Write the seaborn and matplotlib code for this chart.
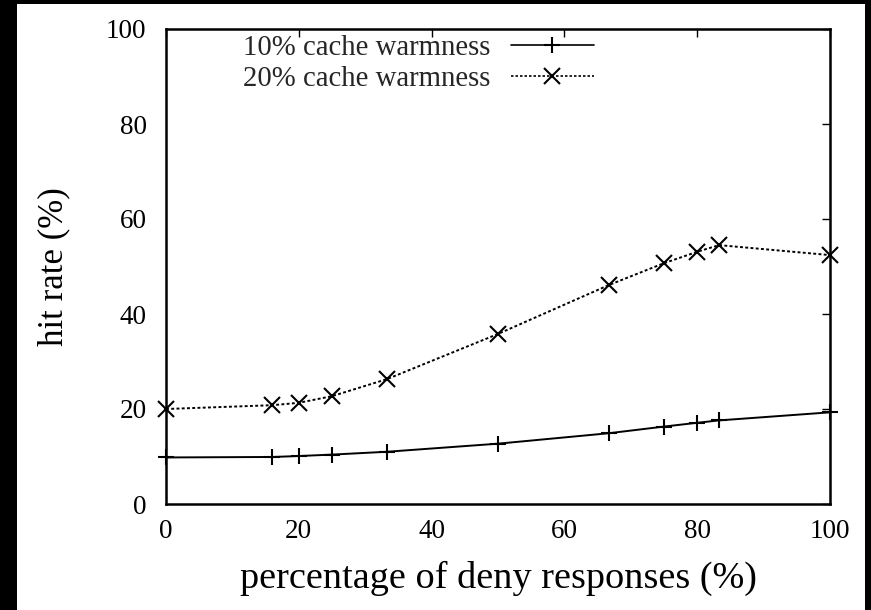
import numpy as np
import pandas as pd
import matplotlib
matplotlib.use("Agg")
import matplotlib.pyplot as plt
import matplotlib.patches as mpatches
import seaborn as sns

# Share of deny responses (%) and the measured hit rates (%)
deny_pct = [0, 16, 20, 25, 33.3, 50, 66.7, 75, 80, 83.3, 100]
hit_10 = [9.8, 9.9, 10.1, 10.4, 11.0, 12.7, 14.9, 16.3, 17.1, 17.6, 19.3]
hit_20 = [20.0, 20.8, 21.3, 22.7, 26.3, 35.8, 46.1, 50.7, 53.1, 54.5, 52.4]
series_names = ["10% cache warmness", "20% cache warmness"]

df = pd.DataFrame({
    "deny": deny_pct * 2,
    "hit": hit_10 + hit_20,
    "series": [series_names[0]] * len(deny_pct) + [series_names[1]] * len(deny_pct),
})

sns.set_theme(style="white")
plt.rcParams["font.family"] = ["Liberation Serif", "DejaVu Serif"]

fig = plt.figure(figsize=(8.71, 6.10), dpi=100, facecolor="black")
# white page inside the dark frame
fig.patches.append(mpatches.Rectangle((17 / 871, 0), (865 - 17) / 871, 606 / 610,
                                      transform=fig.transFigure, facecolor="white",
                                      edgecolor="none", zorder=-10))
ax = fig.add_axes([166 / 871, 106 / 610, 664 / 871, 475 / 610])
ax.set_facecolor("white")

dot_dash = (1.5, 1.2)
sns.lineplot(data=df, x="deny", y="hit", hue="series", style="series",
             palette={series_names[0]: "black", series_names[1]: "black"},
             markers={series_names[0]: "+", series_names[1]: "x"},
             dashes={series_names[0]: "", series_names[1]: dot_dash},
             markersize=12, markeredgewidth=1.5, markeredgecolor="black",
             linewidth=1.4, ax=ax, legend=False, clip_on=False, zorder=3)

ax.set_xlim(0, 100)
ax.set_ylim(0, 100)
ax.set_xticks([0, 20, 40, 60, 80, 100])
ax.set_yticks([0, 20, 40, 60, 80, 100])
ax.tick_params(direction="in", length=6, width=1.0, top=True, right=True,
               labelsize=19.5, colors="black", pad=11)
ax.tick_params(axis="y", pad=14)
for s in ax.spines.values():
    s.set_color("black")
    s.set_linewidth(1.8)

ax.set_xlabel("percentage of deny responses (%)", fontsize=27.5, color="black", labelpad=12)
ax.set_ylabel("hit rate (%)", fontsize=25, color="black", labelpad=26)

handles = [
    plt.Line2D([], [], color="black", lw=1.2, marker="+", markersize=12, markeredgewidth=1.5),
    plt.Line2D([], [], color="black", lw=1.2, ls=(0, dot_dash), marker="x",
               markersize=12, markeredgewidth=1.5),
]
leg = ax.legend(handles, series_names, loc="upper left",
                bbox_to_anchor=((243 - 166) / 664, 1.0 - 6 / 475),
                frameon=False, markerfirst=False, fontsize=20.7, handlelength=2.9,
                handletextpad=0.7, labelspacing=0.17, borderpad=0.0, borderaxespad=0.0)

fig.savefig("out.png", dpi=100, facecolor="black")
